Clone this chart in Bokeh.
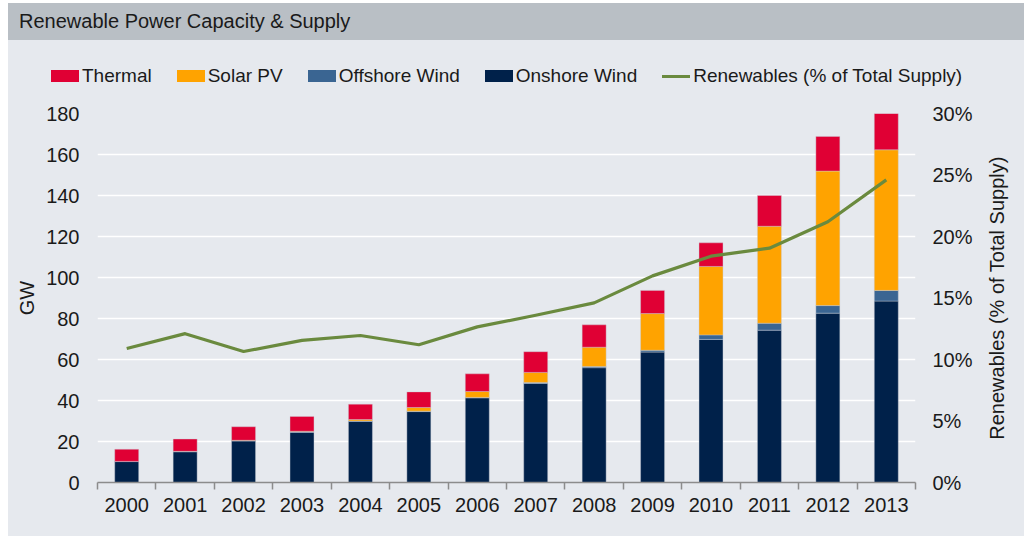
from bokeh.plotting import figure
from bokeh.layouts import column, row
from bokeh.models import (ColumnDataSource, Range1d, LinearAxis, FixedTicker,
                          PrintfTickFormatter, Div, Label)
from bokeh.embed import file_html
from bokeh.resources import INLINE
import math

# ---------------- data ----------------
years = ["2000", "2001", "2002", "2003", "2004", "2005", "2006",
         "2007", "2008", "2009", "2010", "2011", "2012", "2013"]
onshore = [10.2, 15.0, 20.3, 24.5, 29.9, 34.6, 41.3, 48.3, 56.0, 63.6, 69.8, 74.3, 82.6, 88.5]
offshore = [0.1, 0.1, 0.1, 0.2, 0.1, 0.2, 0.2, 0.5, 0.6, 0.9, 2.2, 3.4, 3.7, 5.2]
solar = [0.0, 0.1, 0.2, 0.3, 0.7, 1.8, 2.9, 4.9, 9.4, 17.9, 33.4, 47.3, 65.6, 68.6]
thermal = [5.9, 6.0, 6.6, 7.2, 7.5, 7.6, 8.6, 10.1, 10.9, 11.3, 11.5, 15.0, 16.9, 17.7]
renew_pct = [10.9, 12.1, 10.65, 11.55, 11.95, 11.2, 12.65, 13.6, 14.6, 16.8, 18.4, 19.05, 21.2, 24.6]
gw_ticks = [0, 20, 40, 60, 80, 100, 120, 140, 160, 180]
pct_ticks = [0, 5, 10, 15, 20, 25, 30]
series_labels = ["Thermal", "Solar PV", "Offshore Wind", "Onshore Wind"]
line_label = "Renewables (% of Total Supply)"

FONT = "Liberation Sans"
TXT = "#1a1a1a"
BG = "#e6e9ee"
BAR_BG = "#b9bfc5"

C_ON = "#00214a"
C_OFF = "#3a6592"
C_SOL = "#ffa300"
C_TH = "#e00034"
C_LINE = "#6a8a3e"
series_colors = [C_TH, C_SOL, C_OFF, C_ON]

xpos = [i + 0.5 for i in range(len(years))]
src = ColumnDataSource(dict(x=xpos, onshore=onshore, offshore=offshore,
                            solar=solar, thermal=thermal, pct=renew_pct))

W = 1016
FRAME_W, FRAME_H = 818, 369
B_LEFT, B_RIGHT, B_TOP, B_BOTTOM = 89, 60, 23, 54
LABEL_W = W - (B_LEFT + FRAME_W + B_RIGHT)

# ---------------- title bar ----------------
title = Div(text='<div style="padding-left:11px;line-height:37px;white-space:nowrap;'
                 'font-family:\'Liberation Sans\';font-size:20px;color:#1a1a1a;">'
                 'Renewable Power Capacity &amp; Supply</div>',
            width=W, height=37,
            styles={"background-color": BAR_BG, "margin": "0", "padding": "0"})

# ---------------- legend (HTML row) ----------------
parts = []
for lab, col in zip(series_labels, series_colors):
    parts.append(
        '<span style="display:inline-flex;align-items:center;margin-right:25px;">'
        f'<span style="display:inline-block;width:28px;height:12px;background:{col};'
        f'margin-right:3px;"></span>{lab}</span>')
parts.append(
    '<span style="display:inline-flex;align-items:center;">'
    f'<span style="display:inline-block;width:28px;height:3px;background:{C_LINE};'
    f'margin-right:3px;"></span>{line_label}</span>')
legend = Div(text='<div style="position:relative;top:25px;display:flex;align-items:center;'
                  'height:22px;padding-left:43px;white-space:nowrap;'
                  'font-family:\'Liberation Sans\';font-size:19px;color:#1a1a1a;">'
                  + "".join(parts) + '</div>',
             width=W, height=50,
             styles={"background-color": BG, "margin": "0", "padding": "0"})

# ---------------- main chart ----------------
n = len(years)
p = figure(frame_width=FRAME_W, frame_height=FRAME_H, toolbar_location=None,
           output_backend="svg", x_range=Range1d(0, n), y_range=Range1d(0, 180),
           min_border_left=B_LEFT, min_border_right=B_RIGHT, min_border_top=B_TOP,
           min_border_bottom=B_BOTTOM)
p.background_fill_color = BG
p.border_fill_color = BG
p.outline_line_color = None
p.xgrid.visible = False
p.ygrid.grid_line_color = "white"
p.ygrid.grid_line_width = 1.5
p.ygrid.ticker = FixedTicker(ticks=gw_ticks)

p.extra_y_ranges = {"pct": Range1d(0, 30)}

rs = p.vbar_stack(["onshore", "offshore", "solar", "thermal"], x="x", width=0.41,
                  source=src, color=[C_ON, C_OFF, C_SOL, C_TH],
                  line_color="#c8ced8", line_alpha=0.5, line_width=0.8)
ln = p.line("x", "pct", source=src, y_range_name="pct",
            line_color=C_LINE, line_width=3.2, line_join="round")

# x axis
xa = p.xaxis[0]
xa.ticker = FixedTicker(ticks=xpos, minor_ticks=list(range(n + 1)))
xa.major_label_overrides = {x: y for x, y in zip(xpos, years)}
xa.major_tick_line_color = None
xa.minor_tick_out = 7
xa.minor_tick_in = 0
xa.minor_tick_line_color = "#8c8c8c"
xa.minor_tick_line_width = 1.5
xa.axis_line_color = "#8c8c8c"
xa.axis_line_width = 1.5
xa.major_label_standoff = 8
xa.major_label_text_font = FONT
xa.major_label_text_font_size = "20px"
xa.major_label_text_color = TXT

# left axis
ya = p.yaxis[0]
ya.ticker = FixedTicker(ticks=gw_ticks)
ya.axis_line_color = None
ya.major_tick_line_color = None
ya.major_tick_out = 0
ya.major_tick_in = 0
ya.minor_tick_line_color = None
ya.major_label_standoff = 18
ya.major_label_text_font = FONT
ya.major_label_text_font_size = "20px"
ya.major_label_text_color = TXT
ya.axis_label = "GW"
ya.axis_label_standoff = 5
ya.axis_label_text_font = FONT
ya.axis_label_text_font_size = "20px"
ya.axis_label_text_font_style = "normal"
ya.axis_label_text_color = TXT

# right axis
ra = LinearAxis(y_range_name="pct", ticker=FixedTicker(ticks=pct_ticks),
                formatter=PrintfTickFormatter(format="%d%%"))
ra.axis_line_color = None
ra.major_tick_line_color = None
ra.major_tick_out = 0
ra.major_tick_in = 0
ra.minor_tick_line_color = None
ra.major_label_standoff = 17
ra.major_label_text_font = FONT
ra.major_label_text_font_size = "20px"
ra.major_label_text_color = TXT
p.add_layout(ra, "right")

# right axis title (reads bottom-to-top), in a narrow companion figure
pl = figure(frame_width=LABEL_W, frame_height=FRAME_H, toolbar_location=None,
            output_backend="svg", x_range=Range1d(0, 1), y_range=Range1d(0, 1),
            x_axis_type=None, y_axis_type=None,
            min_border_left=0, min_border_right=0, min_border_top=B_TOP,
            min_border_bottom=B_BOTTOM)
pl.background_fill_color = BG
pl.border_fill_color = BG
pl.outline_line_color = None
pl.add_layout(Label(x=0.5, y=0.5, x_offset=-3, text=line_label, angle=math.pi / 2,
                    text_align="center", text_baseline="middle",
                    text_font=FONT, text_font_size="20px", text_color=TXT))

chart_row = row(p, pl, spacing=0, styles={"background-color": BG})
layout = column(title, legend, chart_row, spacing=0, margin=(3, 0, 0, 8))
open("out.html", "w").write(file_html(layout, INLINE))
